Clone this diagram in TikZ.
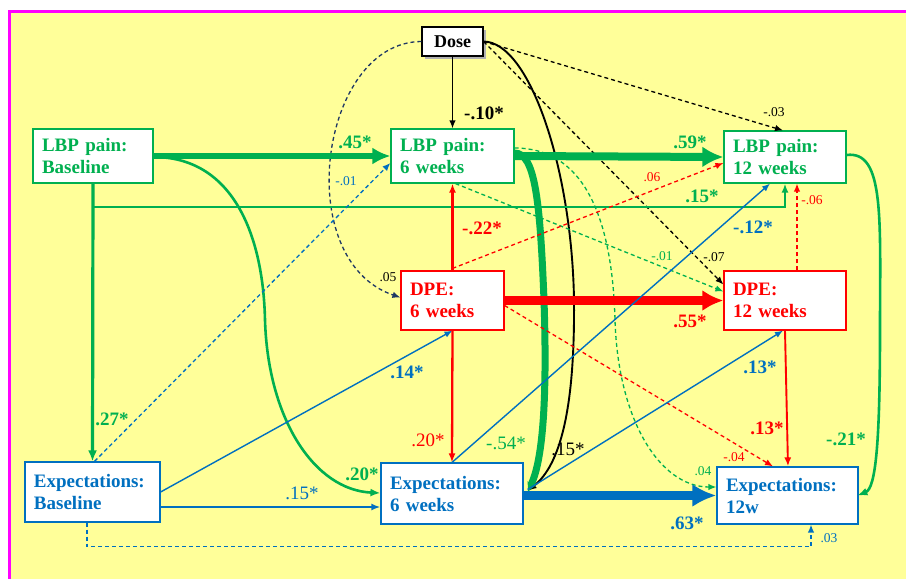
\documentclass[tikz,border=0pt]{standalone}
\usepackage{fontspec}
\setmainfont{Liberation Serif}
\usetikzlibrary{arrows.meta,calc}
\definecolor{grn}{RGB}{0,176,80}
\definecolor{blu}{RGB}{0,112,192}
\definecolor{rd}{RGB}{255,0,0}
\definecolor{nvy}{RGB}{31,56,100}
\definecolor{ylw}{RGB}{255,255,153}
\definecolor{mag}{RGB}{255,0,255}
\begin{document}
\begin{tikzpicture}[x=1pt,y=-1pt,
 bx/.style={draw, fill=white, line width=1.2pt, inner xsep=9pt, inner ysep=0pt, align=left, font=\fontsize{19}{22}\selectfont\bfseries},
 lb/.style={font=\fontsize{19}{22}\selectfont\bfseries, inner sep=0pt},
 lr/.style={font=\fontsize{19}{22}\selectfont, inner sep=0pt},
 ls/.style={font=\fontsize{13.5}{15}\selectfont, inner sep=0pt},
 thin/.style={line width=1.4pt, -{Latex[length=8pt,width=6.5pt]}},
 med/.style={line width=2.6pt, -{Latex[length=10pt,width=8pt]}},
 dsh/.style={line width=1.3pt, dash pattern=on 4pt off 3pt, -{Latex[length=8pt,width=6.5pt]}},
]
\useasboundingbox (0,0) rectangle (906,579);
\fill[white] (0,0) rectangle (906,579);
\fill[mag] (8,10) rectangle (906,13);
\fill[mag] (8,10) rectangle (11,579);
\fill[ylw] (11,13) rectangle (906,579);

% nodes
\fill[gray!60] (425,30) rectangle (486,59);
\node[bx, draw=black, minimum width=61pt, minimum height=29pt, inner xsep=0pt, align=center, font=\fontsize{18}{20}\selectfont\bfseries] (dose) at (452.5,41.5) {Dose};
\node[bx, draw=grn, text=grn, text width=102pt, minimum height=54pt] (lbp0) at (93,156) {LBP pain:\\Baseline};
\node[bx, draw=grn, text=grn, text width=105pt, minimum height=54pt] (lbp6) at (452.5,156) {LBP pain:\\6 weeks};
\node[bx, draw=grn, text=grn, text width=104pt, minimum height=52pt] (lbp12) at (785,157) {LBP pain:\\12 weeks};
\node[bx, draw=rd, text=rd, text width=85pt, minimum height=59pt] (dpe6) at (452.5,300.5) {DPE:\\6 weeks};
\node[bx, draw=rd, text=rd, text width=104pt, minimum height=59pt] (dpe12) at (785,300.5) {DPE:\\12 weeks};
\node[bx, draw=blu, text=blu, text width=117pt, minimum height=60pt] (exp0) at (92.5,492) {Expectations:\\Baseline};
\node[bx, draw=blu, text=blu, text width=124pt, minimum height=61pt] (exp6) at (452,493.5) {Expectations:\\6 weeks};
\node[bx, draw=blu, text=blu, text width=123pt, minimum height=57pt] (exp12) at (787.5,495.5) {Expectations:\\12w};

% Dose paths
\draw[thin, black] (dose.south) -- (lbp6.north);
\draw[dsh, black] (dose.east) -- ($(lbp12.north)+(-2,0)$);
\draw[dsh, black] (dose.east) -- ($(dpe12.west)+(0,-16)$);
\draw[dsh, nvy] (dose.west) .. controls (320,42) and (290,260) .. ($(dpe6.west)+(0,-3)$);
\draw[black, line width=1.9pt, -{Latex[length=9pt,width=7pt]}] (dose.east) .. controls (530,42) and (572,170) .. (574,300) .. controls (575,410) and (560,465) .. ($(exp6.east)+(4,-2.5)$);

% LBP baseline paths
\draw[grn, line width=5.5pt, -{Latex[length=18pt,width=17pt]}] (lbp0.east) -- (lbp6.west);
\draw[grn, med] ($(lbp0.east)+(0,1)$) .. controls (230,157) and (263,230) .. (265,320) .. controls (268,420) and (315,490) .. ($(exp6.west)+(0,-0.5)$);
\draw[grn, line width=3.2pt, -{Latex[length=11pt,width=9pt]}] (lbp0.south) -- (exp0.north);
\draw[grn, line width=2.2pt, -{Latex[length=9pt,width=7pt]}] ($(lbp0.south)+(0,23)$) -| (lbp12.south);

% Exp baseline paths
\draw[dsh, blu] ($(exp0.north)+(2,0)$) -- ($(lbp6.west)+(0,7)$);
\draw[thin, blu] ($(exp0.east)+(0,0)$) -- (dpe6.south);
\draw[blu, line width=2.2pt, -{Latex[length=9pt,width=7pt]}] ($(exp0.east)+(0,15)$) -- ($(exp6.west)+(0,13.5)$);
\draw[dsh, blu] ($(exp0.south)+(-5.5,0)$) -- ++(0,24) -| ($(exp12.south)+(23.5,0)$);

% LBP 6 weeks paths
\draw[grn, line width=8pt, -{Latex[length=21pt,width=21pt]}] (lbp6.east) -- (lbp12.west);
\draw[grn, line width=7pt, -{Latex[length=10pt,width=10pt]}] ($(lbp6.east)+(0,-3)$) .. controls (535,153) and (540,200) .. (544,300) .. controls (548,420) and (540,465) .. ($(exp6.east)+(4,-1)$);
\draw[dsh, grn] ($(lbp6.south)+(3,0)$) -- ($(dpe12.west)+(0,-9)$);
\draw[dsh, grn] ($(lbp6.east)+(0,-8)$) .. controls (580,148) and (612,210) .. (615,320) .. controls (618,420) and (660,487) .. ($(exp12.west)+(0,-8.5)$);

% DPE 6 weeks paths
\draw[rd, line width=2.3pt, -{Latex[length=9pt,width=7pt]}] (dpe6.north) -- (lbp6.south);
\draw[rd, line width=2.3pt, -{Latex[length=9pt,width=7pt]}] (dpe6.south) -- (exp6.north);
\draw[rd, line width=8.5pt, -{Latex[length=21pt,width=21pt]}] (dpe6.east) -- (dpe12.west);
\draw[dsh, rd] ($(dpe6.north)+(0,-2)$) -- ($(lbp12.west)+(0,6)$);
\draw[dsh, rd] ($(dpe6.east)+(0,5)$) -- ($(exp12.north)+(-14.5,0)$);

% DPE 12 weeks paths
\draw[dsh, rd] ($(dpe12.north)+(12,0)$) -- ($(lbp12.south)+(12,0)$);
\draw[rd, line width=1.9pt, -{Latex[length=9pt,width=7pt]}] (dpe12.south) -- ($(exp12.north)+(0.5,0)$);

% Exp 6 weeks paths
\draw[thin, blu] (exp6.north) -- ($(lbp12.south)+(-15,0)$);
\draw[thin, blu] ($(exp6.east)+(4,-4)$) -- ($(dpe12.south)+(-2,0)$);
\draw[blu, line width=9.5pt, -{Latex[length=24pt,width=23pt]}] ($(exp6.east)+(0,2)$) -- (exp12.west);

% LBP 12 weeks
\draw[grn, med] ($(lbp12.east)+(0,-2)$) .. controls (885,150) and (880,220) .. (880,330) .. controls (880,440) and (876,488) .. ($(exp12.west)+(141,0)$);

% labels
\node[lb, black] (t1) at (484,113) {-.10*};
\node[ls, black] (t2) at (774,112) {-.03};
\node[ls, black] (t3) at (714,257) {-.07};
\node[ls, black] (t4) at (388,277) {.05};
\node[lr, black] (t5) at (568,449) {.15*};
\node[lb, grn] (t6) at (355,142) {.45*};
\node[lb, grn] (t7) at (362,474) {.20*};
\node[lb, grn] (t8) at (112,419) {.27*};
\node[lb, grn] (t9) at (702,196) {.15*};
\node[ls, blu] (t10) at (346,181) {-.01};
\node[lb, blu] (t11) at (407,372) {.14*};
\node[lr, blu] (t12) at (302,493) {.15*};
\node[ls, blu] (t13) at (829,538) {.03};
\node[lb, grn] (t14) at (690,142) {.59*};
\node[lr, grn] (t15) at (506,443) {-.54*};
\node[ls, grn] (t16) at (662,256) {-.01};
\node[ls, grn] (t17) at (703,471) {.04};
\node[lb, rd] (t18) at (482,228) {-.22*};
\node[lr, rd] (t19) at (428,440) {.20*};
\node[lb, rd] (t20) at (690,321) {.55*};
\node[ls, rd] (t21) at (652,177) {.06};
\node[ls, rd] (t22) at (734,457) {-.04};
\node[ls, rd] (t23) at (812,200) {-.06};
\node[lb, rd] (t24) at (767,428) {.13*};
\node[lb, blu] (t25) at (753,227) {-.12*};
\node[lb, blu] (t26) at (760,367) {.13*};
\node[lb, blu] (t27) at (687,523) {.63*};
\node[lb, grn] (t28) at (846,439) {-.21*};
\end{tikzpicture}
\end{document}
